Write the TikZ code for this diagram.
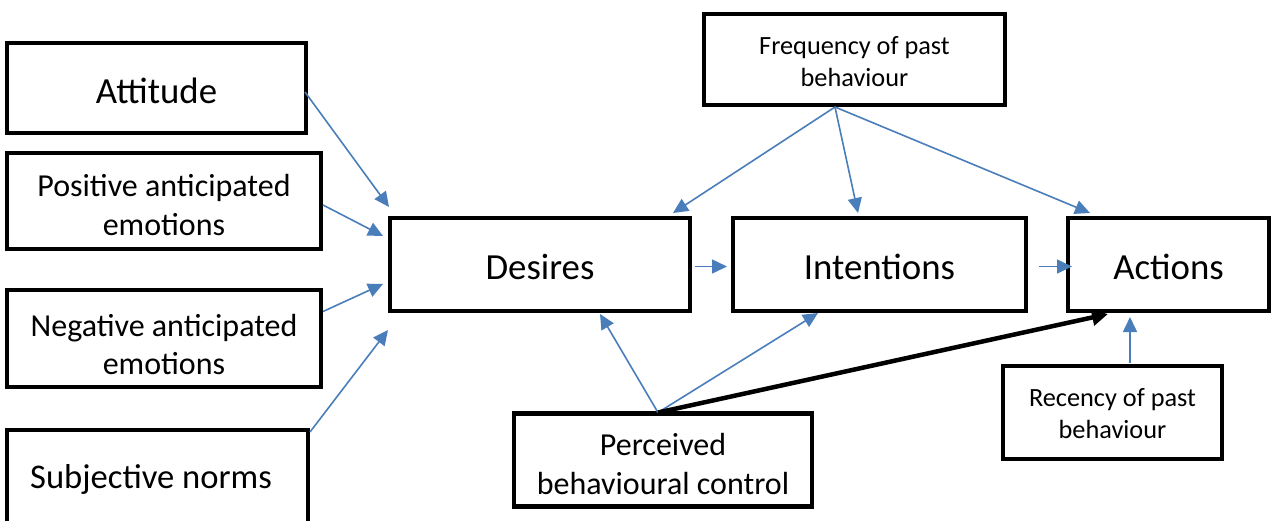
\documentclass[tikz,border=0pt]{standalone}
\usepackage{fontspec}
\setmainfont{Carlito}
\usetikzlibrary{arrows.meta}
\definecolor{arrowblue}{HTML}{4A7EBB}
\tikzset{
  box/.style={draw=black, line width=4.5pt, fill=white, inner sep=0pt, outer sep=0pt},
  bigtxt/.style={font=\fontsize{36.8}{44}\selectfont, align=center, inner sep=0pt},
  midtxt/.style={font=\fontsize{32}{38.5}\selectfont, align=center, inner sep=0pt},
  smalltxt/.style={font=\fontsize{26.3}{32}\selectfont, align=center, inner sep=0pt},
  bluearrow/.style={draw=arrowblue, line width=1.6pt, -{Triangle[length=15pt,width=14pt]}},
  blackarrow/.style={draw=black, line width=4.5pt, -{Triangle[length=16pt,width=16pt]}},
}
\begin{document}
\begin{tikzpicture}[x=1pt,y=-1pt]
\useasboundingbox (0,0) rectangle (1272,520);
% left column
\node[box,minimum width=299pt,minimum height=90pt,
  label={[bigtxt,yshift=-3pt]center:Attitude}] (att) at (156.5,88) {};
\node[box,minimum width=314pt,minimum height=96pt,
  label={[midtxt,yshift=-4pt]center:Positive anticipated\\emotions}] (pos) at (164,201) {};
\node[box,minimum width=314pt,minimum height=97pt,
  label={[midtxt,yshift=-6pt]center:Negative anticipated\\emotions}] (neg) at (164,338.5) {};
\node[box,minimum width=301pt,minimum height=100pt,
  label={[font=\fontsize{34.6}{40}\selectfont,inner sep=0pt,xshift=-6.5pt,yshift=1pt]center:Subjective norms}] (subj) at (157.5,480) {};
% middle row
\node[box,minimum width=300pt,minimum height=93pt,
  label={[bigtxt,yshift=-2pt]center:Desires}] (des) at (540,264.5) {};
\node[box,minimum width=293pt,minimum height=93pt,
  label={[bigtxt,yshift=-2pt]center:Intentions}] (int) at (879.5,264.5) {};
\node[box,minimum width=201pt,minimum height=93pt,
  label={[bigtxt,yshift=-2pt]center:Actions}] (act) at (1168.5,264.5) {};
% top and bottom
\node[box,minimum width=301pt,minimum height=91pt,
  label={[smalltxt,yshift=-2.5pt]center:Frequency of past\\behaviour}] (freq) at (854.5,59.5) {};
\node[box,minimum width=298pt,minimum height=93pt,
  label={[midtxt,yshift=-4pt]center:Perceived\\behavioural control}] (perc) at (663,460) {};
\node[box,minimum width=219pt,minimum height=93pt,
  label={[smalltxt,yshift=-1.5pt]center:Recency of past\\behaviour}] (rec) at (1112.5,412.5) {};
% arrows into desires
\draw[bluearrow] ([shift={(-1,4)}]att.east) -- ([shift={(-1,-11)}]des.north west);
\draw[bluearrow] ([shift={(2,4)}]pos.east) -- ([shift={(-7,18)}]des.north west);
\draw[bluearrow] ([shift={(2,-27)}]neg.east) -- ([shift={(-7,-27)}]des.south west);
\draw[bluearrow] ([shift={(2,2)}]subj.north east) -- ([shift={(-2,19)}]des.south west);
% chain
\draw[bluearrow] ([shift={(5,2)}]des.east) -- ([shift={(-6,2)}]int.west);
\draw[bluearrow] ([shift={(13,2)}]int.east) -- ([shift={(4,2)}]act.west);
% frequency
\draw[bluearrow] ([shift={(-19.5,2)}]freq.south) -- ([shift={(133,-5)}]des.north);
\draw[bluearrow] ([shift={(-19.5,2)}]freq.south) -- ([shift={(-21.5,-5)}]int.north);
\draw[bluearrow] ([shift={(-19.5,2)}]freq.south) -- ([shift={(-78.5,-5)}]act.north);
% perceived
\draw[bluearrow] ([shift={(-5,-1)}]perc.north) -- ([shift={(60,3)}]des.south);
\draw[bluearrow] ([shift={(-5,-1)}]perc.north) -- ([shift={(-61.5,2)}]int.south);
\draw[blackarrow] ([shift={(-5,-1)}]perc.north) -- ([shift={(-60.5,3)}]act.south);
% recency
\draw[bluearrow] ([shift={(17.5,-3)}]rec.north) -- ([shift={(-38.5,6)}]act.south);
\end{tikzpicture}
\end{document}
